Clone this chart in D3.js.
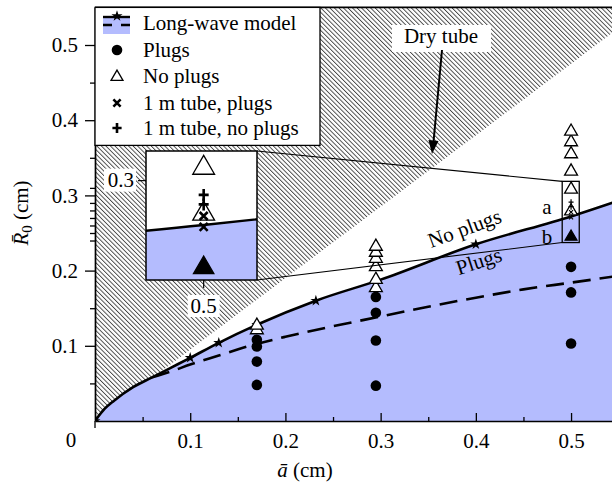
<!DOCTYPE html>
<html>
<head>
<meta charset="utf-8">
<script src="https://cdn.jsdelivr.net/npm/d3@7"></script>
<style>
  html, body { margin: 0; padding: 0; background: #fff; }
  svg { display: block; font-family: "Liberation Serif", "Times New Roman", serif; }
</style>
</head>
<body>
<svg id="chart" width="612" height="491"></svg>
<script>
// long-wave model, no plugs (solid) and plugs (dashed)
const modelA = [0, 0.01, 0.02, 0.04, 0.06, 0.08, 0.10, 0.13, 0.17, 0.232, 0.30, 0.40, 0.50, 0.55];
const modelR = [0, 0.016, 0.027, 0.045, 0.058, 0.071, 0.084, 0.104, 0.128, 0.160, 0.188, 0.235, 0.272, 0.293];
const starPts = [[0, 0], [0.10, 0.084], [0.13, 0.104], [0.17, 0.128], [0.232, 0.160], [0.40, 0.235]];
const dashA = [0.06, 0.08, 0.10, 0.13, 0.16, 0.20, 0.25, 0.30, 0.35, 0.40, 0.45, 0.50, 0.55];
const dashR = [0.058, 0.066, 0.075, 0.087, 0.099, 0.112, 0.126, 0.139, 0.152, 0.164, 0.175, 0.184, 0.193];

// dry tube boundary
const dryLine = [[0, 0], [0.579, 0.55]];

// experiments
const plugsPts = [[0.17, 0.048], [0.17, 0.079], [0.17, 0.099], [0.17, 0.108],
  [0.295, 0.047], [0.295, 0.107], [0.295, 0.144], [0.295, 0.165],
  [0.5, 0.103], [0.5, 0.171], [0.5, 0.205]];
const noPlugsPts = [[0.17, 0.121], [0.17, 0.127],
  [0.295, 0.177], [0.295, 0.188], [0.295, 0.205], [0.295, 0.216], [0.295, 0.224], [0.295, 0.232],
  [0.5, 0.279], [0.5, 0.308], [0.5, 0.332], [0.5, 0.355], [0.5, 0.371], [0.5, 0.385]];
const pointB = [[0.5, 0.245]];
const tubePlugsPts = [[0.5, 0.2777], [0.5, 0.2708]];
const tubeNoPlugsPts = [[0.5, 0.291], [0.5, 0.285]];

// zoom window
const insetA = [0.4907, 0.5086];
const insetR = [0.2373, 0.3187];

const xMajor = [0.1, 0.2, 0.3, 0.4, 0.5];
const xMinor = [0.05, 0.15, 0.25, 0.35, 0.45];
const yMajor = [0.1, 0.2, 0.3, 0.4, 0.5];
const yMinor = [0.05, 0.15, 0.25, 0.35, 0.45, 0.24, 0.26, 0.27, 0.28, 0.29, 0.31];

const legendItems = ["Long-wave model", "Plugs", "No plugs", "1 m tube, plugs", "1 m tube, no plugs"];

const BLUE = "#b4bcfe";
const FS = 21;
const FONT = "Liberation Serif";

const svg = d3.select("#chart");
const x = d3.scaleLinear().domain([0, 0.543]).range([95, 612]);
const y = d3.scaleLinear().domain([0, 0.55]).range([421, 7.4]);

const model = modelA.map((a, i) => [a, modelR[i]]);
const dash = dashA.map((a, i) => [a, dashR[i]]);

const defs = svg.append("defs");
const hatch = defs.append("pattern")
  .attr("id", "hatch")
  .attr("patternUnits", "userSpaceOnUse")
  .attr("width", 3.2).attr("height", 10)
  .attr("patternTransform", "rotate(-45)");
hatch.append("line")
  .attr("x1", 0.5).attr("y1", 0).attr("x2", 0.5).attr("y2", 10)
  .attr("stroke", "#000").attr("stroke-width", 0.75);

defs.append("clipPath").attr("id", "plotClip")
  .append("rect")
  .attr("x", x(0)).attr("y", y(0.55))
  .attr("width", x(0.543) - x(0)).attr("height", y(0) - y(0.55));

const plot = svg.append("g").attr("clip-path", "url(#plotClip)");

function drawRegions(g, sx, sy) {
  const poly = [[0, 0.6], dryLine[0], dryLine[1], [dryLine[1][0] + 0.1, 0.6]];
  g.append("path")
    .attr("d", d3.line().x(d => sx(d[0])).y(d => sy(d[1]))(poly) + "Z")
    .attr("fill", "url(#hatch)");
}

function drawModel(g, sx, sy, lw) {
  g.append("path")
    .attr("d", d3.area().x(d => sx(d[0])).y0(sy(0)).y1(d => sy(d[1])).curve(d3.curveMonotoneX)(model))
    .attr("fill", BLUE);
  g.append("path")
    .attr("d", d3.line().x(d => sx(d[0])).y(d => sy(d[1])).curve(d3.curveMonotoneX)(model))
    .attr("fill", "none").attr("stroke", "#000").attr("stroke-width", lw);
}

function tri(g, cx, cy, size, filled) {
  g.append("path")
    .attr("d", d3.symbol(d3.symbolTriangle, size)())
    .attr("transform", `translate(${cx},${cy})`)
    .attr("fill", filled ? "#000" : "#fff")
    .attr("stroke", "#000").attr("stroke-width", 1.3);
}

function cross(g, cx, cy, h, lw) {
  g.append("path")
    .attr("d", `M${cx - h},${cy - h}L${cx + h},${cy + h}M${cx - h},${cy + h}L${cx + h},${cy - h}`)
    .attr("stroke", "#000").attr("stroke-width", lw);
}

function plus(g, cx, cy, hw, hh, lw) {
  g.append("path")
    .attr("d", `M${cx - hw},${cy}L${cx + hw},${cy}M${cx},${cy - hh}L${cx},${cy + hh}`)
    .attr("stroke", "#000").attr("stroke-width", lw);
}

function label(g, px, py, txt, anchor) {
  return g.append("text").attr("x", px).attr("y", py)
    .attr("text-anchor", anchor || "middle")
    .attr("font-family", FONT).attr("font-size", FS).text(txt);
}

// main plot
drawRegions(plot, x, y);
drawModel(plot, x, y, 2.6);

plot.append("path")
  .attr("d", d3.line().x(d => x(d[0])).y(d => y(d[1])).curve(d3.curveMonotoneX)(dash))
  .attr("fill", "none").attr("stroke", "#000").attr("stroke-width", 2.6)
  .attr("stroke-dasharray", "18,9");

plot.selectAll(".star").data(starPts).join("path")
  .attr("d", d3.symbol(d3.symbolStar, 38)())
  .attr("transform", d => `translate(${x(d[0])},${y(d[1])})`)
  .attr("fill", "#000");

noPlugsPts.forEach(d => tri(plot, x(d[0]), y(d[1]), 72, false));
tubeNoPlugsPts.forEach(d => plus(plot, x(d[0]), y(d[1]), 2.5, 3, 1.2));
tubePlugsPts.forEach(d => cross(plot, x(d[0]), y(d[1]), 2, 1.2));
pointB.forEach(d => tri(plot, x(d[0]), y(d[1]), 60, true));
plot.selectAll(".plug").data(plugsPts).join("circle")
  .attr("cx", d => x(d[0])).attr("cy", d => y(d[1])).attr("r", 5.3)
  .attr("fill", "#000");

// zoom rectangle and connectors
const inset = { x0: 146, x1: 257, y0: 151, y1: 280 };
const rx0 = x(insetA[0]), rx1 = x(insetA[1]), ry0 = y(insetR[1]), ry1 = y(insetR[0]);
svg.append("rect")
  .attr("x", rx0).attr("y", ry0).attr("width", rx1 - rx0).attr("height", ry1 - ry0)
  .attr("fill", "none").attr("stroke", "#000").attr("stroke-width", 1.3);
svg.append("path")
  .attr("d", `M${inset.x1},${inset.y0}L${rx0},${ry0}M${inset.x1},${inset.y1}L${rx0},${ry1}`)
  .attr("stroke", "#000").attr("stroke-width", 1.1);

// inset
const ix = d3.scaleLinear().domain(insetA).range([inset.x0, inset.x1]);
const iy = d3.scaleLinear().domain(insetR).range([inset.y1, inset.y0]);
defs.append("clipPath").attr("id", "insetClip")
  .append("rect")
  .attr("x", inset.x0).attr("y", inset.y0)
  .attr("width", inset.x1 - inset.x0).attr("height", inset.y1 - inset.y0);
const ig = svg.append("g");
ig.append("rect")
  .attr("x", inset.x0).attr("y", inset.y0)
  .attr("width", inset.x1 - inset.x0).attr("height", inset.y1 - inset.y0)
  .attr("fill", "#fff");
const igc = ig.append("g").attr("clip-path", "url(#insetClip)");
drawModel(igc, ix, iy, 2.4);
noPlugsPts.forEach(d => tri(igc, ix(d[0]), iy(d[1]), 205, false));
pointB.forEach(d => tri(igc, ix(d[0]), iy(d[1]), 180, true));
tubeNoPlugsPts.forEach(d => plus(igc, ix(d[0]), iy(d[1]), 5, 6, 2.6));
tubePlugsPts.forEach(d => cross(igc, ix(d[0]), iy(d[1]), 4, 2.6));
ig.append("rect")
  .attr("x", inset.x0).attr("y", inset.y0)
  .attr("width", inset.x1 - inset.x0).attr("height", inset.y1 - inset.y0)
  .attr("fill", "none").attr("stroke", "#000").attr("stroke-width", 1.5);

ig.append("line")
  .attr("x1", ix(0.5)).attr("x2", ix(0.5)).attr("y1", inset.y1).attr("y2", inset.y1 + 8)
  .attr("stroke", "#000").attr("stroke-width", 1.2);
ig.append("line")
  .attr("x1", inset.x0 - 8).attr("x2", inset.x0).attr("y1", iy(0.3)).attr("y2", iy(0.3))
  .attr("stroke", "#000").attr("stroke-width", 1.2);
ig.append("rect").attr("x", ix(0.5) - 16).attr("y", 295).attr("width", 32).attr("height", 22).attr("fill", "#fff");
label(ig, ix(0.5), 313, "0.5");
ig.append("rect").attr("x", 104).attr("y", iy(0.3) - 12).attr("width", 32).attr("height", 23).attr("fill", "#fff");
label(ig, 134, iy(0.3) + 6.5, "0.3", "end");

// annotations
svg.append("text").attr("font-family", FONT).attr("font-size", FS).attr("text-anchor", "middle")
  .attr("transform", "translate(467,235) rotate(-20)").text("No plugs");
svg.append("text").attr("font-family", FONT).attr("font-size", FS).attr("text-anchor", "middle")
  .attr("transform", "translate(481,268) rotate(-18)").text("Plugs");
label(svg, 547, 214, "a");
label(svg, 547, 244, "b");

svg.append("rect").attr("x", 392).attr("y", 25).attr("width", 99).attr("height", 27).attr("fill", "#fff");
label(svg, 441, 43, "Dry tube");
svg.append("line")
  .attr("x1", 442).attr("y1", 50).attr("x2", 433.5).attr("y2", 142)
  .attr("stroke", "#000").attr("stroke-width", 2);
svg.append("path")
  .attr("d", "M432,154L428.5,140L438.5,141Z")
  .attr("fill", "#000");

// axes
const axisG = svg.append("g");

axisG.append("g").attr("transform", `translate(0,${y(0)})`)
  .call(d3.axisBottom(x).tickValues(xMajor).tickSize(-8).tickSizeOuter(0)
    .tickPadding(12).tickFormat(d3.format(".1f")));
axisG.append("g").attr("transform", `translate(0,${y(0)})`)
  .call(d3.axisBottom(x).tickValues(xMinor).tickSize(-4).tickSizeOuter(0).tickFormat(""))
  .select(".domain").remove();

axisG.append("g").attr("transform", `translate(${x(0)},0)`)
  .call(d3.axisLeft(y).tickValues(yMajor).tickSize(10).tickSizeOuter(0)
    .tickPadding(7).tickFormat(d3.format(".1f")));
axisG.append("g").attr("transform", `translate(${x(0)},0)`)
  .call(d3.axisLeft(y).tickValues(yMinor).tickSize(5).tickSizeOuter(0).tickFormat(""))
  .select(".domain").remove();

axisG.selectAll(".domain").attr("stroke-width", 1.7);
axisG.selectAll(".tick line").attr("stroke-width", 1.3);
axisG.selectAll(".tick text").attr("font-size", FS).attr("font-family", FONT).attr("fill", "#000");

axisG.append("line")
  .attr("x1", x(0)).attr("x2", x(0.543)).attr("y1", y(0.55)).attr("y2", y(0.55))
  .attr("stroke", "#000").attr("stroke-width", 1.7);
axisG.append("line")
  .attr("x1", x(0)).attr("x2", x(0)).attr("y1", y(0)).attr("y2", y(0) + 7)
  .attr("stroke", "#000").attr("stroke-width", 1.3);
label(axisG, 71, 447, "0");

const xt = label(svg, 305, 477, "");
xt.append("tspan").attr("font-style", "italic").text("ā");
xt.append("tspan").text(" (cm)");

const yt = svg.append("text").attr("transform", "translate(28,213) rotate(-90)")
  .attr("text-anchor", "middle").attr("font-family", FONT).attr("font-size", FS);
yt.append("tspan").attr("font-style", "italic").text("R\u0304");
yt.append("tspan").attr("font-size", 15).attr("dy", 4).text("0");
yt.append("tspan").attr("dy", -4).text(" (cm)");

// legend
const lg = svg.append("g");
lg.append("rect").attr("x", 95).attr("y", 7.4).attr("width", 225).attr("height", 138)
  .attr("fill", "#fff").attr("stroke", "#000").attr("stroke-width", 1.3);
const rows = [23, 50, 76, 103, 128];
legendItems.forEach((d, i) => label(lg, 143, rows[i] + 7, d, "start"));
lg.append("rect").attr("x", 103).attr("y", 18).attr("width", 27).attr("height", 16).attr("fill", BLUE);
lg.append("line").attr("x1", 103).attr("x2", 130).attr("y1", 17).attr("y2", 17)
  .attr("stroke", "#000").attr("stroke-width", 2.4);
lg.append("path").attr("d", "M103,25L112,25M121,25L130,25")
  .attr("stroke", "#000").attr("stroke-width", 2.4);
lg.append("path").attr("d", d3.symbol(d3.symbolStar, 38)())
  .attr("transform", "translate(117,16)").attr("fill", "#000");
lg.append("circle").attr("cx", 117).attr("cy", rows[1]).attr("r", 5.3).attr("fill", "#000");
tri(lg, 117, rows[2] + 1, 62, false);
cross(lg, 117, rows[3], 3.6, 2.6);
plus(lg, 117, rows[4], 4.6, 5, 2.6);
</script>
</body>
</html>
